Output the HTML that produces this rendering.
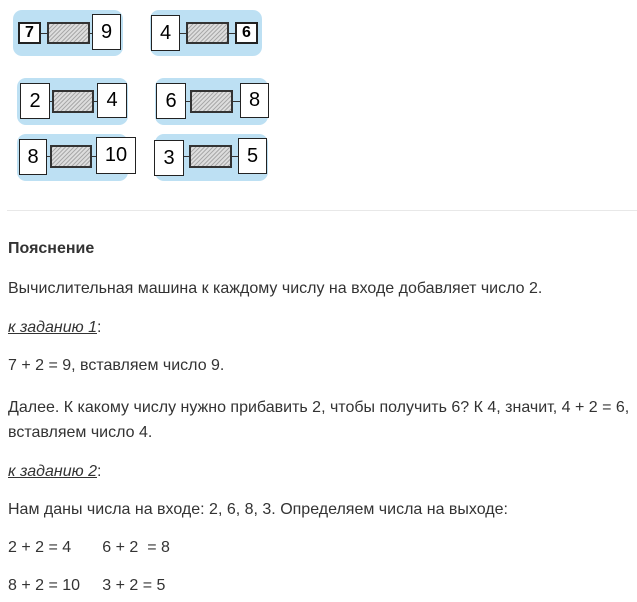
<!DOCTYPE html>
<html><head><meta charset="utf-8"><style>
body{margin:0;width:637px;height:602px;background:#fff;position:relative;overflow:hidden;font-family:"Liberation Sans",Arial,sans-serif;color:#333}
.bg{position:absolute;background:#bde0f3;border-radius:9px}
.box{position:absolute;background:#fff;border:1px solid #222;box-sizing:border-box;display:flex;align-items:center;justify-content:center;font-size:20px;color:#000}
.sm{font-size:16px;font-weight:bold;border-width:2px}
.g{position:absolute;border:2px solid #333;box-sizing:border-box;background:repeating-linear-gradient(135deg,#aaa 0 1px,#ddd 1px 3px)}
.w{position:absolute;height:1px;background:#333}
.t{position:absolute;left:8px;font-size:16px;line-height:20px;white-space:nowrap}
u{font-style:italic}
</style></head><body>
<div class="bg" style="left:13px;top:10px;width:110px;height:46px"></div>
<div class="w" style="left:40px;top:33px;width:54px"></div>
<div class="box sm" style="left:18px;top:22px;width:23px;height:22px">7</div>
<div class="g" style="left:47px;top:22px;width:43px;height:22px"></div>
<div class="box" style="left:92px;top:14px;width:29px;height:36px">9</div>

<div class="bg" style="left:150px;top:10px;width:112px;height:46px"></div>
<div class="w" style="left:180px;top:33px;width:56px"></div>
<div class="box" style="left:151px;top:15px;width:29px;height:36px">4</div>
<div class="g" style="left:186px;top:22px;width:43px;height:22px"></div>
<div class="box sm" style="left:235px;top:22px;width:23px;height:22px">6</div>

<div class="bg" style="left:17px;top:78px;width:111px;height:47px"></div>
<div class="w" style="left:50px;top:101px;width:48px"></div>
<div class="box" style="left:20px;top:83px;width:30px;height:36px">2</div>
<div class="g" style="left:52px;top:90px;width:42px;height:23px"></div>
<div class="box" style="left:97px;top:83px;width:30px;height:35px">4</div>

<div class="bg" style="left:155px;top:78px;width:113px;height:47px"></div>
<div class="w" style="left:186px;top:101px;width:55px"></div>
<div class="box" style="left:156px;top:83px;width:30px;height:36px">6</div>
<div class="g" style="left:190px;top:90px;width:43px;height:23px"></div>
<div class="box" style="left:240px;top:83px;width:29px;height:35px">8</div>

<div class="bg" style="left:17px;top:134px;width:111px;height:47px"></div>
<div class="w" style="left:47px;top:156px;width:50px"></div>
<div class="box" style="left:19px;top:139px;width:28px;height:36px">8</div>
<div class="g" style="left:50px;top:145px;width:42px;height:23px"></div>
<div class="box" style="left:96px;top:137px;width:40px;height:37px">10</div>

<div class="bg" style="left:155px;top:134px;width:113px;height:47px"></div>
<div class="w" style="left:184px;top:156px;width:55px"></div>
<div class="box" style="left:154px;top:140px;width:30px;height:36px">3</div>
<div class="g" style="left:189px;top:145px;width:43px;height:23px"></div>
<div class="box" style="left:238px;top:138px;width:29px;height:36px">5</div>

<div style="position:absolute;left:7px;top:210px;width:630px;height:1px;background:#e8e8e8"></div>
<div class="t" style="top:239px;font-weight:bold">Пояснение</div>
<div class="t" style="top:279px">Вычислительная машина к каждому числу на входе добавляет число 2.</div>
<div class="t" style="top:318px"><u>к заданию 1</u>:</div>
<div class="t" style="top:356px">7 + 2 = 9, вставляем число 9.</div>
<div class="t" style="top:398px">Далее. К какому числу нужно прибавить 2, чтобы получить 6? К 4, значит, 4 + 2 = 6,</div>
<div class="t" style="top:423px">вставляем число 4.</div>
<div class="t" style="top:462px"><u>к заданию 2</u>:</div>
<div class="t" style="top:500px">Нам даны числа на входе: 2, 6, 8, 3. Определяем числа на выходе:</div>
<div class="t" style="top:538px">2 + 2 = 4&nbsp;&nbsp;&nbsp;&nbsp;&nbsp;&nbsp; 6 + 2&nbsp; = 8</div>
<div class="t" style="top:576px">8 + 2 = 10&nbsp;&nbsp;&nbsp;&nbsp; 3 + 2 = 5</div>
</body></html>
